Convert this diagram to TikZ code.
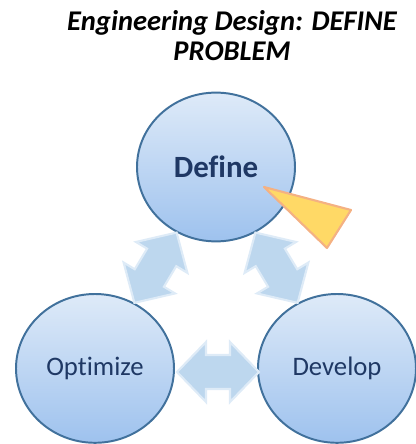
\documentclass[tikz,border=0pt]{standalone}
\usepackage{fontspec}
\setmainfont{Carlito}[Ligatures=NoCommon]
\usetikzlibrary{shapes.geometric,calc}
\definecolor{cycleink}{HTML}{1F3864}
\definecolor{cycleedge}{HTML}{41719C}
\definecolor{cycletop}{HTML}{DEEAF8}
\definecolor{cyclebottom}{HTML}{9EC2EE}
\definecolor{swapfill}{HTML}{BDD7EE}
\definecolor{swapedge}{HTML}{DEEBF7}
\definecolor{pointerfill}{HTML}{FFD966}
\definecolor{pointeredge}{HTML}{F4B183}

\begin{document}
\begin{tikzpicture}[
  x=1cm,
  y=1cm,
  every node/.style={font=\fontsize{19}{21}\selectfont},
  stage/.style={ellipse, draw=cycleedge, line width=1.4pt,
    top color=cycletop, bottom color=cyclebottom,
    minimum width=3.95cm, minimum height=3.72cm, inner sep=0pt,
    text=cycleink}
]
  \useasboundingbox (0,0) rectangle (10.4,11.1);

  \node[align=center, font=\fontsize{20.3}{21.3}\selectfont\bfseries\itshape]
    (title) at (5.8,10.2) {Engineering Design: DEFINE\\PROBLEM};

  \node[stage, font=\fontsize{22}{24}\selectfont\bfseries] (define) at (5.4,6.925) {Define};
  \node[stage] (optimize) at (2.375,1.89) {Optimize};
  \node[stage] (develop) at (8.425,1.89) {Develop};

  \coordinate (od) at ($(optimize)!0.5!(define)$);
  \coordinate (dd) at ($(develop)!0.5!(define)$);
  \coordinate (ov) at ($(optimize)!0.5!(develop)+(0.05,-0.09)$);

  % two-way arrows between the stages
  \foreach \spot/\ang in {od/59, dd/-59, ov/0} {
    \begin{scope}[shift={(\spot)}, rotate=\ang]
      \filldraw[fill=swapfill, draw=swapedge, line width=1.5pt, line join=miter]
        (-1.025,0) -- (-0.3,0.75) -- (-0.3,0.425) -- (0.3,0.425) -- (0.3,0.75)
        -- (1.025,0) -- (0.3,-0.75) -- (0.3,-0.425) -- (-0.3,-0.425)
        -- (-0.3,-0.75) -- cycle;
    \end{scope}
  }

  \filldraw[fill=pointerfill, draw=pointeredge, line width=1.5pt, line join=round]
    (6.6,6.425) -- (8.775,5.85) -- (8.175,4.9) -- cycle;
\end{tikzpicture}
\end{document}
